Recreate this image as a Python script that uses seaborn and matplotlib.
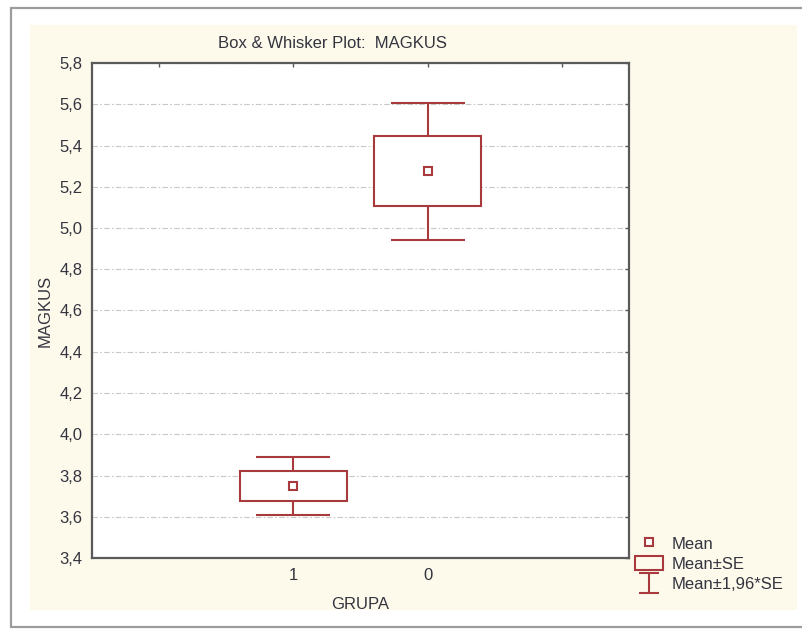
"""Box & whisker plot (mean, mean+-SE, mean+-1.96*SE) of MAGKUS by GRUPA."""

import matplotlib
matplotlib.use("Agg")
import matplotlib.pyplot as plt
import numpy as np
import pandas as pd
import seaborn as sns
from matplotlib.lines import Line2D
from matplotlib.patches import Patch, Rectangle
from matplotlib.path import Path
from matplotlib.ticker import FuncFormatter, MultipleLocator

# values
groups = ["1", "0"]
means = [3.75, 5.275]
se = [0.072, 0.17]
z_value = 1.96

RED = "#A83A3E"
BEIGE = "#FDFAEC"
TEXT = "#34343f"

sns.set_theme(style="white")
plt.rcParams["font.family"] = ["Liberation Sans", "DejaVu Sans"]

df = pd.DataFrame({"GRUPA": groups, "MAGKUS": means, "SE": se})
df["lo"] = df["MAGKUS"] - df["SE"]
x = np.arange(len(df))

fig = plt.figure(figsize=(8.03, 6.31), dpi=100, facecolor="white")
W, H = 803, 631
# outer frame and beige panel, kept behind the axes
fig.patches.append(Rectangle((11 / W, 4 / H), 1.0, (627 - 8) / H, transform=fig.transFigure,
                             facecolor="white", edgecolor="#9c9c9c", linewidth=1.6, zorder=-10))
fig.patches.append(Rectangle((30 / W, (H - 610) / H), (797 - 30) / W, (610 - 25) / H,
                             transform=fig.transFigure, facecolor=BEIGE, edgecolor="none", zorder=-9))

ax = fig.add_axes([92 / W, (H - 558) / H, (629 - 92) / W, (558 - 63) / H])
ax.set_facecolor("white")

# whiskers: mean +- 1.96*SE
ax.errorbar(x, df["MAGKUS"], yerr=z_value * df["SE"], fmt="none", ecolor=RED,
            elinewidth=1.5, capsize=26.5, capthick=1.5, zorder=2)
# boxes: mean +- SE
ax.bar(x, 2 * df["SE"], bottom=df["lo"], width=0.8, facecolor="white",
       edgecolor=RED, linewidth=1.5, zorder=3)
# means
sns.pointplot(data=df, x="GRUPA", y="MAGKUS", order=groups, color=RED, markers="s",
              linestyle="none", errorbar=None, markersize=5.5, markerfacecolor="white",
              markeredgewidth=1.5, ax=ax, zorder=4)

ax.set_xlim(-1.5, len(groups) + 0.5)
ax.set_xticks(np.arange(-1, len(groups) + 1))
ax.set_xticklabels([""] + groups + [""])
ax.set_ylim(3.4, 5.8)
ax.yaxis.set_major_locator(MultipleLocator(0.2))
ax.yaxis.set_major_formatter(FuncFormatter(lambda v, _: f"{v:.1f}".replace(".", ",")))

ax.grid(axis="y", color="#c8c8c8", linewidth=0.8, linestyle=(0, (5, 2, 1.5, 2)))
ax.set_axisbelow(True)
for spine in ax.spines.values():
    spine.set_color("#5a5a5a")
    spine.set_linewidth(1.6)
ax.tick_params(direction="in", length=3, width=1, color="#5a5a5a", top=True, right=True,
               labelsize=12, labelcolor=TEXT, pad=7)

ax.set_xlabel("GRUPA", fontsize=12, color=TEXT, labelpad=10)
ax.set_ylabel("MAGKUS", fontsize=12, color=TEXT, labelpad=5)
fig.text(332 / W, (H - 43) / H, "Box & Whisker Plot:  MAGKUS", ha="center", va="center",
         fontsize=12, color=TEXT)

ibeam = Path([(-1, 1), (1, 1), (0, 1), (0, -1), (-1, -1), (1, -1)],
             [Path.MOVETO, Path.LINETO, Path.MOVETO, Path.LINETO, Path.MOVETO, Path.LINETO])
handles = [
    Line2D([], [], ls="none", marker="s", markersize=5.5, markerfacecolor="white",
           markeredgecolor=RED, markeredgewidth=1.5),
    Patch(facecolor="none", edgecolor=RED, linewidth=1.5),
    Line2D([], [], ls="none", marker=ibeam, markersize=14, markerfacecolor="none",
           markeredgecolor=RED, markeredgewidth=1.5),
]
fig.legend(handles, ["Mean", "Mean±SE", "Mean±1,96*SE"], loc="lower left",
           bbox_to_anchor=(620 / W, (H - 607) / H), frameon=False, fontsize=12,
           handlelength=1.7, handleheight=0.9, handletextpad=0.5, labelspacing=0.27,
           labelcolor=TEXT)

fig.savefig("out.png", dpi=100, facecolor=fig.get_facecolor())
